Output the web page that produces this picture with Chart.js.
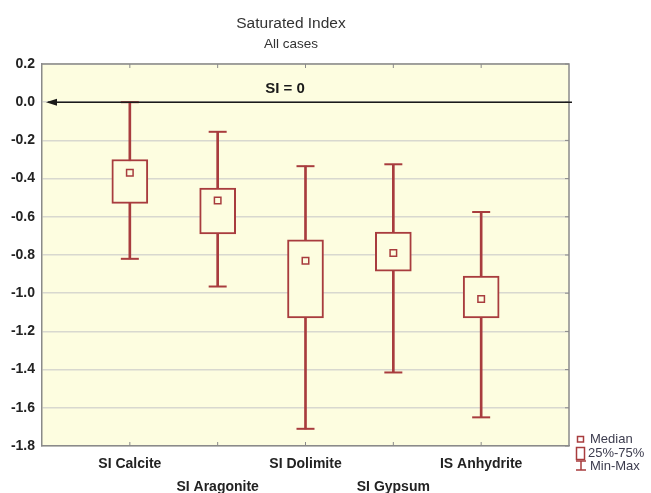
<!DOCTYPE html>
<html>
<head>
<meta charset="utf-8">
<script src="https://cdn.jsdelivr.net/npm/chart.js@4/dist/chart.umd.min.js"></script>
<style>
  html, body { margin: 0; padding: 0; background: #ffffff; }
  #wrap { width: 651px; height: 493px; }
</style>
</head>
<body>
<div id="wrap"><canvas id="c" width="651" height="493"></canvas></div>
<script>
// ---- data ----
const categories = ['SI Calcite', 'SI Aragonite', 'SI Dolimite', 'SI Gypsum', 'IS Anhydrite'];
const minVals    = [-0.82, -0.965, -1.71, -1.415, -1.65];
const q1Vals     = [-0.53, -0.69, -1.13, -0.885, -1.13];
const medianVals = [-0.37, -0.515, -0.83, -0.79, -1.03];
const q3Vals     = [-0.30, -0.45, -0.72, -0.68, -0.91];
const maxVals    = [0.0, -0.155, -0.335, -0.325, -0.575];
const yTickVals  = [0.2, 0.0, -0.2, -0.4, -0.6, -0.8, -1.0, -1.2, -1.4, -1.6, -1.8];
const titleText = 'Saturated Index';
const subtitleText = 'All cases';
const refLabel = 'SI = 0';
const refValue = 0;
const legendLabels = ['Median', '25%-75%', 'Min-Max'];

// ---- styles ----
const RED = '#a83c3e';
const PLOT_BG = '#fdfde0';
const GRID = '#d8d8cf';
const FRAME = '#8a8a8a';
const FONT = '"Liberation Sans", Arial, sans-serif';

const xPos = categories.map((c, i) => i + 1);

const whiskerData = xPos.map((x, i) => ({ x: x, y: [minVals[i], maxVals[i]] }));
const boxData     = xPos.map((x, i) => ({ x: x, y: [q1Vals[i], q3Vals[i]] }));
const capData     = xPos.flatMap((x, i) => [{ x: x, y: minVals[i] }, { x: x, y: maxVals[i] }]);
const medianData  = xPos.map((x, i) => ({ x: x, y: medianVals[i] }));

const decorPlugin = {
  id: 'decor',
  beforeDraw(chart) {
    const { ctx, chartArea: a } = chart;
    ctx.save();
    ctx.fillStyle = '#ffffff';
    ctx.fillRect(0, 0, chart.width, chart.height);
    ctx.fillStyle = PLOT_BG;
    ctx.fillRect(a.left, a.top, a.right - a.left, a.bottom - a.top);
    ctx.restore();
  },
  afterDraw(chart) {
    const { ctx, chartArea: a, scales } = chart;
    const xs = scales.x, ys = scales.y;
    ctx.save();
    // frame (top & right)
    ctx.strokeStyle = FRAME;
    ctx.lineWidth = 1.5;
    ctx.beginPath();
    ctx.moveTo(a.left, a.top); ctx.lineTo(a.right, a.top); ctx.lineTo(a.right, a.bottom);
    ctx.stroke();
    // inward tick marks
    ctx.lineWidth = 1;
    ctx.beginPath();
    xPos.forEach(v => {
      const px = xs.getPixelForValue(v);
      ctx.moveTo(px, a.top); ctx.lineTo(px, a.top + 4);
      ctx.moveTo(px, a.bottom); ctx.lineTo(px, a.bottom - 4);
    });
    yTickVals.forEach(v => {
      const py = ys.getPixelForValue(v);
      ctx.moveTo(a.right, py); ctx.lineTo(a.right - 4, py);
    });
    ctx.stroke();
    // reference line with arrow
    const y0 = ys.getPixelForValue(refValue);
    ctx.strokeStyle = '#1a1a1a';
    ctx.fillStyle = '#1a1a1a';
    ctx.lineWidth = 1.5;
    ctx.beginPath();
    ctx.moveTo(a.left + 6, y0); ctx.lineTo(a.right + 3, y0);
    ctx.stroke();
    ctx.beginPath();
    ctx.moveTo(a.left + 4, y0);
    ctx.lineTo(a.left + 15, y0 - 3.5);
    ctx.lineTo(a.left + 15, y0 + 3.5);
    ctx.closePath();
    ctx.fill();
    ctx.font = 'bold 15px ' + FONT;
    ctx.textAlign = 'center';
    ctx.textBaseline = 'alphabetic';
    ctx.fillText(refLabel, 285, y0 - 9);
    // titles
    ctx.fillStyle = '#333333';
    ctx.font = '15.5px ' + FONT;
    ctx.fillText(titleText, 291, 28);
    ctx.font = '13.5px ' + FONT;
    ctx.fillText(subtitleText, 291, 48);
    // legend
    ctx.strokeStyle = RED;
    ctx.lineWidth = 1.5;
    ctx.strokeRect(577.5, 436.5, 6, 5.5);
    ctx.strokeRect(576.5, 447.5, 8, 12);
    ctx.beginPath();
    ctx.moveTo(576, 461); ctx.lineTo(586, 461);
    ctx.moveTo(581, 461); ctx.lineTo(581, 470);
    ctx.moveTo(576, 470); ctx.lineTo(586, 470);
    ctx.stroke();
    ctx.fillStyle = '#3c3c4e';
    ctx.font = '13px ' + FONT;
    ctx.textAlign = 'left';
    ctx.textBaseline = 'middle';
    ctx.fillText(legendLabels[0], 590, 439.5);
    ctx.fillText(legendLabels[1], 588, 453);
    ctx.fillText(legendLabels[2], 590, 466.5);
    ctx.restore();
  }
};

new Chart(document.getElementById('c'), {
  type: 'bar',
  data: {
    datasets: [
      { type: 'bar', data: whiskerData, backgroundColor: RED, borderWidth: 0,
        barThickness: 2, grouped: false, order: 3 },
      { type: 'bar', data: boxData, backgroundColor: PLOT_BG, borderColor: RED, borderWidth: 2,
        borderSkipped: false, barThickness: 36, grouped: false, order: 2 },
      { type: 'line', data: capData, showLine: false, pointStyle: 'line', pointRadius: 9,
        pointBorderColor: RED, pointBorderWidth: 2, borderColor: RED, order: 1 },
      { type: 'line', data: medianData, showLine: false, pointStyle: 'rect', pointRadius: 4.6,
        pointBackgroundColor: PLOT_BG, pointBorderColor: RED, pointBorderWidth: 1.5, borderColor: RED, order: 0 }
    ]
  },
  options: {
    responsive: false,
    animation: false,
    devicePixelRatio: 1,
    layout: { padding: { top: 64, right: 82, left: 0, bottom: 0 } },
    plugins: { legend: { display: false }, tooltip: { enabled: false }, title: { display: false } },
    scales: {
      x: {
        type: 'linear', min: 0, max: 6, offset: false,
        afterBuildTicks(axis) { axis.ticks = xPos.map(v => ({ value: v })); },
        afterFit(axis) { axis.height = 47; },
        grid: { display: false, drawTicks: false, offset: false },
        border: { display: true, color: FRAME, width: 1.5 },
        ticks: {
          autoSkip: false, maxRotation: 0, padding: 6,
          color: '#222222',
          font: { family: FONT, size: 14, weight: 'bold', lineHeight: 1.68 },
          callback(v) {
            const i = Math.round(v) - 1;
            if (i < 0 || i >= categories.length) return '';
            return i % 2 === 0 ? [categories[i]] : ['', categories[i]];
          }
        }
      },
      y: {
        type: 'linear', min: -1.8, max: 0.2,
        afterBuildTicks(axis) { axis.ticks = yTickVals.map(v => ({ value: v })); },
        afterFit(axis) { axis.width = 42; },
        grid: { color: GRID, lineWidth: 1.5, drawTicks: false },
        border: { display: true, color: FRAME, width: 1.5 },
        ticks: {
          padding: 7, color: '#222222',
          font: { family: FONT, size: 14, weight: 'bold' },
          callback(v) { return (Math.round(v * 10) / 10).toFixed(1); }
        }
      }
    }
  },
  plugins: [decorPlugin]
});
</script>
</body>
</html>
